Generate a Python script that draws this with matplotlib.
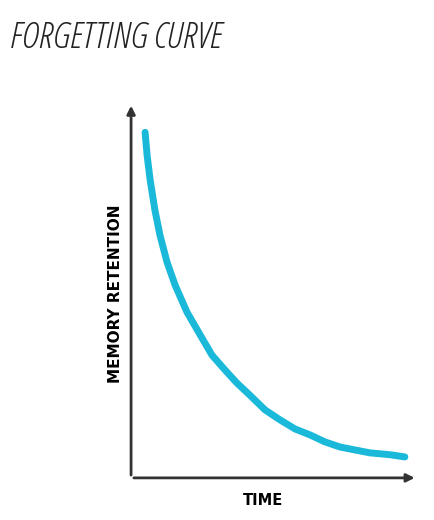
import matplotlib
matplotlib.use("Agg")
import matplotlib.pyplot as plt

time_vals = [5.0, 5.7, 6.8, 8.5, 10.3, 12.8, 15.7, 19.9, 24.6, 28.8, 33.5, 37.7, 42.3,
             47.7, 53.0, 58.4, 63.7, 69.0, 74.4, 79.7, 85.1, 92.2, 97.5]
retention = [94.0, 87.8, 81.0, 72.8, 66.0, 58.7, 52.4, 45.1, 38.9, 33.4, 29.3, 25.8, 22.5,
             18.5, 15.8, 13.3, 11.7, 9.8, 8.4, 7.6, 6.8, 6.3, 5.7]

fig = plt.figure(figsize=(4.34, 5.2), dpi=100)
ax = fig.add_axes([0.302, 0.081, 0.647, 0.707])
ax.plot(time_vals, retention, color="#1bb9d9", lw=5, solid_capstyle="round",
        solid_joinstyle="round")
ax.set_xlim(0, 100)
ax.set_ylim(0, 100)
for s in ax.spines.values():
    s.set_visible(False)
ax.set_xticks([]); ax.set_yticks([])
ax.annotate("", xy=(102, 0), xytext=(0, 0), annotation_clip=False,
            arrowprops=dict(arrowstyle="-|>", color="#333333", lw=2, mutation_scale=12))
ax.annotate("", xy=(0, 102), xytext=(0, 0), annotation_clip=False,
            arrowprops=dict(arrowstyle="-|>", color="#333333", lw=2, mutation_scale=12))
ax.text(-3, 50, "MEMORY RETENTION", rotation=90, ha="right", va="center",
        fontsize=11, fontweight="bold", family="DejaVu Sans Condensed", clip_on=False)
ax.text(47, -4, "TIME", ha="center", va="top", fontsize=10.5, fontweight="bold",
        family="DejaVu Sans Condensed", clip_on=False)
t = fig.text(0.023, 0.925, "FORGETTING CURVE", fontsize=21, style="italic",
             fontweight="light", family="Open Sans", ha="left", va="center", color="#222222")
t.set_fontstretch("condensed")
fig.canvas.draw()
bb = t.get_window_extent()
target = 212.0
if bb.width > 0:
    t.set_fontsize(21 * target / bb.width)
fig.savefig("out.png", dpi=100)
